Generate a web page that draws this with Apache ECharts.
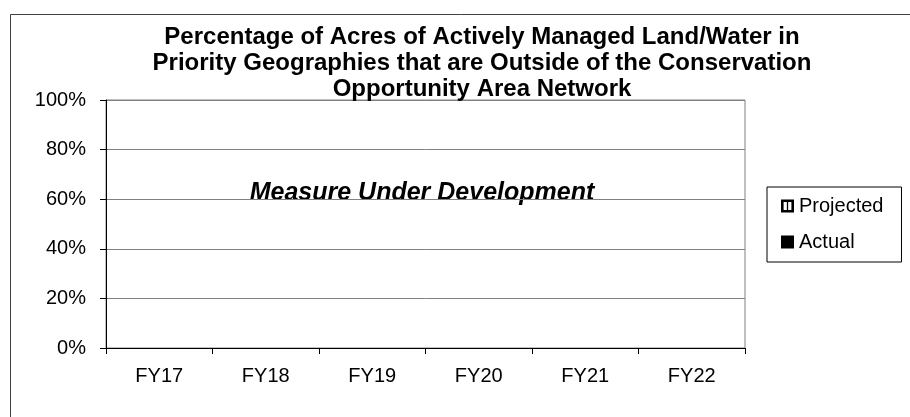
<!DOCTYPE html>
<html>
<head>
<meta charset="utf-8">
<script src="https://cdn.jsdelivr.net/npm/echarts@6/dist/echarts.min.js"></script>
<style>
  html, body { margin: 0; padding: 0; background: #ffffff; }
  #chart { width: 910px; height: 417px; }
</style>
</head>
<body>
<div id="chart"></div>
<script>
// chart data
var years = ['FY17', 'FY18', 'FY19', 'FY20', 'FY21', 'FY22']
var projected = [null, null, null, null, null, null]
var actual = [null, null, null, null, null, null]
var titleText = 'Percentage of Acres of Actively Managed Land/Water in\nPriority Geographies that are Outside of the Conservation\nOpportunity Area Network'
var noteText = 'Measure Under Development'

var font = 'Liberation Sans, Arial, sans-serif'
var myChart = echarts.init(document.getElementById('chart'))

var option = {
  backgroundColor: '#ffffff',
  animation: false,
  title: {
    text: titleText,
    left: 477,
    top: 19,
    textAlign: 'center',
    textStyle: {
      fontFamily: font,
      fontWeight: 'bold',
      fontSize: 24,
      lineHeight: 26,
      color: '#000000'
    }
  },
  grid: {
    left: 106,
    right: 165,
    top: 100,
    bottom: 69,
    show: true,
    borderColor: '#808080',
    borderWidth: 1
  },
  // legend box on the right
  legend: {
    orient: 'vertical',
    left: 767,
    top: 187,
    padding: [9, 18, 10, 14],
    itemGap: 16,
    itemWidth: 13,
    itemHeight: 13,
    borderColor: '#000000',
    borderWidth: 1,
    textStyle: { fontFamily: font, fontSize: 20, color: '#000000' },
    data: [
      { name: 'Projected', icon: 'path://M0,0H10V10H0Z M2,2V8H4.5V2Z M5.5,2V8H8V2Z', itemStyle: { color: '#000000' } },
      { name: 'Actual', icon: 'rect', itemStyle: { color: '#000000' } }
    ]
  },
  xAxis: {
    type: 'category',
    data: years,
    boundaryGap: true,
    axisLine: { lineStyle: { color: '#000000', width: 1 } },
    axisTick: { show: true, length: 6, lineStyle: { color: '#000000' } },
    axisLabel: { fontFamily: font, fontSize: 20, color: '#000000', margin: 18 }
  },
  yAxis: {
    type: 'value',
    min: 0,
    max: 1,
    interval: 0.2,
    axisLine: { show: true, lineStyle: { color: '#000000', width: 1 } },
    axisTick: { show: true, length: 6, lineStyle: { color: '#000000' } },
    axisLabel: {
      fontFamily: font,
      fontSize: 20,
      color: '#000000',
      margin: 20,
      formatter: function (v) { return Math.round(v * 100) + '%' }
    },
    splitLine: { lineStyle: { color: '#808080', width: 1 } }
  },
  series: [
    { name: 'Projected', type: 'bar', data: projected, itemStyle: { color: '#ffffff', borderColor: '#000000' } },
    { name: 'Actual', type: 'bar', data: actual, itemStyle: { color: '#000000' } }
  ],
  graphic: [
    // outer chart frame
    {
      type: 'rect',
      left: 8,
      top: 12,
      shape: { width: 1000, height: 500 },
      style: { fill: 'none', stroke: '#404040', lineWidth: 1 },
      silent: true
    },
    {
      type: 'text',
      x: 422,
      y: 181,
      style: {
        text: noteText,
        align: 'center',
        fontFamily: font,
        fontSize: 25,
        fontWeight: 'bold',
        fontStyle: 'italic',
        fill: '#000000'
      }
    }
  ]
}

myChart.setOption(option)
</script>
</body>
</html>
